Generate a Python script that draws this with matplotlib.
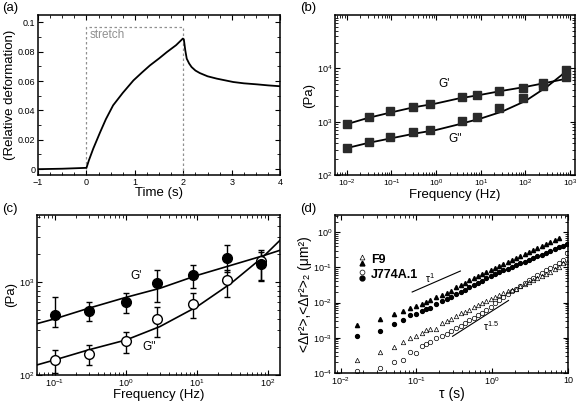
import numpy as np
import matplotlib
matplotlib.use("Agg")
import matplotlib.pyplot as plt
from matplotlib.ticker import MultipleLocator, LogLocator, NullFormatter

plt.rcParams['font.family'] = ['Liberation Sans', 'DejaVu Sans']
plt.rcParams['mathtext.default'] = 'regular'
plt.rcParams['xtick.direction'] = 'in'
plt.rcParams['ytick.direction'] = 'in'
plt.rcParams['xtick.top'] = True
plt.rcParams['ytick.right'] = True
plt.rcParams['axes.linewidth'] = 1.1

# (a) relative deformation vs time
time_s = [-1, -0.5, 0, 0.05, 0.14, 0.28, 0.4, 0.55, 0.75, 0.97, 1.15, 1.31, 1.5, 1.66, 1.85, 1.99, 2.01,
          2.04, 2.07, 2.12, 2.17, 2.25, 2.34, 2.5, 2.69, 3.03, 3.25, 3.52, 3.75, 4.0]
deform = [0.0, 0.0003, 0.0009, 0.006, 0.014, 0.025, 0.034, 0.0435, 0.052, 0.0605, 0.066, 0.0707, 0.0755,
          0.0798, 0.0845, 0.089, 0.0885, 0.081, 0.0753, 0.072, 0.0696, 0.0672, 0.0655, 0.0633, 0.0617,
          0.0594, 0.0585, 0.0578, 0.0571, 0.0565]

# (b) G', G'' vs frequency
b_freq = [0.01, 0.031, 0.093, 0.30, 0.73, 3.8, 8.1, 26, 87, 252, 815]
b_g1 = [900, 1200, 1560, 1910, 2140, 2860, 3200, 3700, 4280, 5240, 6900]
b_g2 = [316, 410, 510, 630, 707, 1015, 1200, 1780, 2800, 4730, 9300]
b_fit_f = [0.01, 0.03, 0.1, 0.3, 1, 3, 10, 30, 100, 300, 750]
b_fit_g1 = [900, 1180, 1500, 1850, 2200, 2700, 3200, 3800, 4500, 5400, 6300]
b_fit_g2 = [320, 400, 490, 590, 700, 880, 1150, 1550, 2450, 4500, 8300]

# (c) G', G'' with error bars
c_freq = [0.1, 0.3, 1, 2.7, 8.7, 26, 80]
c_g1 = [440, 490, 610, 960, 1170, 1800, 1550]
c_g1_hi = [690, 600, 760, 1330, 1510, 2450, 2200]
c_g1_lo = [330, 375, 460, 610, 850, 1280, 1030]
c_g2 = [145, 168, 234, 400, 575, 1040, 1650]
c_g2_hi = [186, 210, 290, 540, 750, 1350, 2100]
c_g2_lo = [104, 128, 170, 257, 405, 680, 1050]
c_fit_f = [0.056, 0.1, 0.3, 1, 3, 10, 30, 85, 148]
c_fit_g1 = [355, 400, 520, 680, 850, 1170, 1500, 1900, 2180]
c_fit_g2 = [128, 145, 186, 237, 330, 540, 960, 1850, 2800]

# (d) mean squared displacements
tau = [0.0167, 0.0333, 0.05, 0.0667, 0.0833, 0.1, 0.117, 0.133, 0.15, 0.183, 0.217, 0.25, 0.283, 0.333,
       0.383, 0.433, 0.5, 0.567, 0.65, 0.733, 0.833, 0.95, 1.083, 1.233, 1.4, 1.6, 1.817, 2.067, 2.35,
       2.683, 3.05, 3.467, 3.95, 4.5, 5.117, 5.833, 6.633, 7.55, 8.6, 9.8]
f9_filled = [2.3e-3, 3.4e-3, 4.8e-3, 5.9e-3, 7.2e-3, 8.0e-3, 9.0e-3, 1.02e-2, 1.15e-2, 1.45e-2, 1.6e-2,
             1.85e-2, 2.2e-2, 2.7e-2, 3.2e-2, 3.7e-2, 4.4e-2, 5.0e-2, 5.8e-2, 6.6e-2, 7.6e-2, 8.7e-2,
             9.9e-2, 0.113, 0.128, 0.147, 0.167, 0.19, 0.216, 0.247, 0.281, 0.32, 0.365, 0.417, 0.474,
             0.54, 0.617, 0.70]
j774_filled = [1.15e-3, 1.6e-3, 2.5e-3, 3.2e-3, 4.3e-3, 4.8e-3, 5.7e-3, 6.4e-3, 7.2e-3, 9.0e-3, 1.08e-2,
               1.25e-2, 1.45e-2, 1.75e-2, 2.05e-2, 2.35e-2, 2.75e-2, 3.15e-2, 3.7e-2, 4.2e-2, 4.9e-2,
               5.7e-2, 6.5e-2, 7.3e-2, 8.2e-2, 9.3e-2, 0.104, 0.117, 0.131, 0.147, 0.165, 0.185, 0.208,
               0.233, 0.262, 0.295, 0.332, 0.372, 0.42, 0.47]
f9_open = [2.4e-4, 4.0e-4, 5.5e-4, 7.5e-4, 1.0e-3, 1.15e-3, 1.4e-3, 1.7e-3, 1.75e-3, 1.8e-3, 2.7e-3,
           3.0e-3, 3.4e-3, 4.2e-3, 4.9e-3, 5.3e-3, 6.3e-3, 7.3e-3, 8.4e-3, 9.8e-3, 1.1e-2, 1.28e-2,
           1.45e-2, 1.6e-2, 1.85e-2, 2.2e-2, 2.3e-2, 2.5e-2, 2.9e-2, 3.3e-2, 3.8e-2, 4.3e-2, 5.0e-2,
           5.7e-2, 6.5e-2, 7.6e-2, 9.0e-2, 0.105, 0.13, 0.145]
j774_open = [1.1e-4, 1.35e-4, 2.0e-4, 2.4e-4, 4.0e-4, 3.7e-4, 6.0e-4, 6.5e-4, 7.5e-4, 1.0e-3, 1.15e-3,
             1.3e-3, 1.6e-3, 1.9e-3, 2.2e-3, 2.6e-3, 3.1e-3, 3.6e-3, 4.4e-3, 5.1e-3, 6.0e-3, 7.5e-3,
             9.5e-3, 1.2e-2, 1.45e-2, 1.75e-2, 2.1e-2, 2.5e-2, 3.0e-2, 3.6e-2, 4.3e-2, 5.1e-2, 6.0e-2,
             7.0e-2, 8.2e-2, 9.6e-2, 0.112, 0.13, 0.16, 0.25]
slope1_tau = [0.088, 0.38]
slope1_msd = [0.02, 0.079]
slope15_tau = [0.30, 1.64]
slope15_msd = [1.1e-3, 1.15e-2]

fig = plt.figure(figsize=(5.85, 4.08), dpi=100)
tick_fs = 6.5
lab_fs = 9.5

def style_ticks(ax):
    ax.tick_params(which='major', length=3.5, width=0.8, labelsize=tick_fs, pad=2)
    ax.tick_params(which='minor', length=2, width=0.6)

def log_minor(ax):
    ax.yaxis.set_minor_locator(LogLocator(subs=np.arange(2, 10)))
    ax.xaxis.set_minor_locator(LogLocator(subs=np.arange(2, 10)))
    ax.xaxis.set_minor_formatter(NullFormatter())
    ax.yaxis.set_minor_formatter(NullFormatter())

# ---- (a)
ax = fig.add_axes([0.065, 0.571, 0.414, 0.392])
ax.plot([0, 0, 2, 2], [0.0, 0.097, 0.097, -0.004], ls=(0, (2, 2)), color='#909090', lw=0.9)
ax.plot(time_s, deform, color='black', lw=1.3)
ax.text(0.06, 0.0915, 'stretch', color='#909090', fontsize=8.5, va='center')
ax.set_xlim(-1, 4)
ax.set_ylim(-0.004, 0.105)
ax.set_xticks([-1, 0, 1, 2, 3, 4])
ax.set_xticklabels(['\u22121', '0', '1', '2', '3', '4'])
ax.set_yticks([0, 0.02, 0.04, 0.06, 0.08, 0.1])
ax.set_yticklabels(['0', '0.02', '0.04', '0.06', '0.08', '0.1'])
ax.xaxis.set_minor_locator(MultipleLocator(0.25))
ax.yaxis.set_minor_locator(MultipleLocator(0.01))
style_ticks(ax)
ax.set_xlabel('Time (s)', fontsize=lab_fs, labelpad=0)
ax.set_ylabel('(Relative deformation)', fontsize=lab_fs, labelpad=1)

# ---- (b)
ax = fig.add_axes([0.573, 0.571, 0.410, 0.392])
ax.set_xscale('log')
ax.set_yscale('log')
ax.plot(b_fit_f, b_fit_g1, color='black', lw=1.3)
ax.plot(b_fit_f, b_fit_g2, color='black', lw=1.3)
ax.plot(b_freq, b_g1, 's', color='#2a2a2a', ms=5.5)
ax.plot(b_freq, b_g2, 's', color='#2a2a2a', ms=5.5)
ax.text(1.5, 5100, "G'", fontsize=8.5, ha='center', va='center')
ax.text(2.7, 470, "G''", fontsize=8.5, ha='center', va='center')
ax.set_xlim(0.0055, 1290)
ax.set_ylim(100, 1e5)
ax.set_xticks([1e-2, 1e-1, 1e0, 1e1, 1e2, 1e3])
ax.set_yticks([1e2, 1e3, 1e4])
log_minor(ax)
style_ticks(ax)
ax.tick_params(axis='x', labelsize=6)
ax.set_xlabel('Frequency (Hz)', fontsize=lab_fs, labelpad=0)
ax.set_ylabel('(Pa)', fontsize=lab_fs, labelpad=1)

# ---- (c)
ax = fig.add_axes([0.063, 0.081, 0.416, 0.392])
ax.set_xscale('log')
ax.set_yscale('log')
ax.plot(c_fit_f, c_fit_g1, color='black', lw=1.2)
ax.plot(c_fit_f, c_fit_g2, color='black', lw=1.2)
err2 = [np.array(c_g2) - np.array(c_g2_lo), np.array(c_g2_hi) - np.array(c_g2)]
ax.errorbar(c_freq, c_g2, yerr=err2, fmt='o', mfc='white', mec='black', ecolor='black',
            ms=7, capsize=2.5, elinewidth=1, capthick=1, mew=1)
err1 = [np.array(c_g1) - np.array(c_g1_lo), np.array(c_g1_hi) - np.array(c_g1)]
ax.errorbar(c_freq, c_g1, yerr=err1, fmt='o', color='black', ecolor='black',
            ms=7, capsize=2.5, elinewidth=1, capthick=1)
ax.text(1.4, 1150, "G'", fontsize=8.5, ha='center', va='center')
ax.text(2.1, 200, "G''", fontsize=8.5, ha='center', va='center')
ax.set_xlim(0.056, 148)
ax.set_ylim(100, 5200)
ax.set_xticks([1e-1, 1e0, 1e1, 1e2])
ax.set_yticks([1e2, 1e3])
log_minor(ax)
style_ticks(ax)
ax.set_xlabel('Frequency (Hz)', fontsize=lab_fs, labelpad=0)
ax.set_ylabel('(Pa)', fontsize=lab_fs, labelpad=1)

# ---- (d)
ax = fig.add_axes([0.573, 0.086, 0.398, 0.387])
ax.set_xscale('log')
ax.set_yscale('log')
ax.plot(tau[:len(f9_filled)], f9_filled, '^', color='black', ms=3)
ax.plot(tau, j774_filled, 'o', color='black', ms=2.8)
ax.plot(tau, f9_open, '^', mfc='none', mec='black', ms=3.2, mew=0.5)
ax.plot(tau, j774_open, 'o', mfc='none', mec='black', ms=3.2, mew=0.5)
ax.plot(slope1_tau, slope1_msd, color='black', lw=0.8)
ax.plot(slope15_tau, slope15_msd, color='black', lw=0.8)
ax.text(0.153, 0.051, r'$\tau^{1}$', fontsize=7.5, ha='center', va='center')
ax.text(0.95, 2.2e-3, r'$\tau^{1.5}$', fontsize=7.5, ha='center', va='center')
# legend drawn by hand, as in the figure
ax.plot([0.116], [0.736], '^', transform=ax.transAxes, mfc='none', mec='black', ms=3.5, mew=0.5)
ax.plot([0.116], [0.696], '^', transform=ax.transAxes, color='black', ms=3.5)
ax.plot([0.116], [0.640], 'o', transform=ax.transAxes, mfc='none', mec='black', ms=3.5, mew=0.5)
ax.plot([0.116], [0.604], 'o', transform=ax.transAxes, color='black', ms=3.5)
ax.text(0.155, 0.715, 'F9', transform=ax.transAxes, fontsize=9, fontweight='bold', va='center')
ax.text(0.155, 0.62, 'J774A.1', transform=ax.transAxes, fontsize=9, fontweight='bold', va='center')
ax.set_xlim(0.0085, 10)
ax.set_ylim(1e-4, 3.1)
ax.set_xticks([1e-2, 1e-1, 1e0, 1e1])
ax.set_xticklabels(['$10^{-2}$', '$10^{-1}$', '$10^{0}$', '10'])
ax.set_yticks([1e-4, 1e-3, 1e-2, 1e-1, 1e0])
log_minor(ax)
style_ticks(ax)
ax.set_xlabel('\u03c4 (s)', fontsize=lab_fs + 0.5, labelpad=0)
ax.set_ylabel('<\u0394r\u00b2>,<\u0394r\u00b2>\u2082 (\u03bcm\u00b2)', fontsize=lab_fs + 0.5, labelpad=1)

# panel letters
for x, y, s in [(0.004, 0.995, '(a)'), (0.513, 0.995, '(b)'), (0.004, 0.503, '(c)'), (0.513, 0.503, '(d)')]:
    fig.text(x, y, s, fontsize=9.5, va='top', ha='left')

fig.savefig('out.png', dpi=100)
